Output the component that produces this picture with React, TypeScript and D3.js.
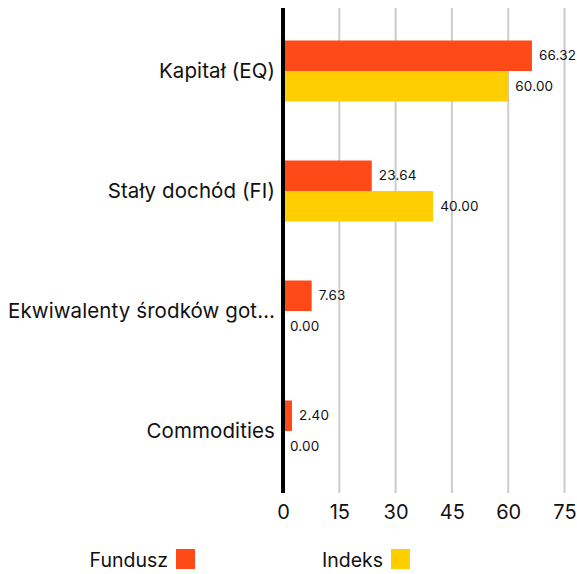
import { useEffect, useRef } from "react";
import { select, scaleLinear, scaleBand, axisBottom } from "d3";

const categories = [
  "Kapitał (EQ)",
  "Stały dochód (FI)",
  "Ekwiwalenty środków got…",
  "Commodities",
];
const seriesNames = ["Fundusz", "Indeks"];
const fundValues = [66.32, 23.64, 7.63, 2.4];
const indexValues = [60.0, 40.0, 0.0, 0.0];
const xTicks = [0, 15, 30, 45, 60, 75];

const colors = ["#FF4A17", "#FFCE00"];
const FONT = "Inter, 'Open Sans', sans-serif";

export default function App() {
  const svgRef = useRef<SVGSVGElement | null>(null);
  const width = 577;
  const height = 574;

  useEffect(() => {
    if (!svgRef.current) return;
    const svg = select(svgRef.current);
    svg.selectAll("*").remove();

    const x = scaleLinear().domain([0, 75]).range([283, 564.5]);
    const y = scaleBand<string>().domain(categories).range([11, 491]).paddingInner(0).paddingOuter(0);
    const inner = scaleBand<string>().domain(seriesNames).range([0, 61]);

    // grid
    svg
      .append("g")
      .selectAll("line")
      .data(xTicks.filter((t) => t > 0))
      .enter()
      .append("line")
      .attr("x1", (d) => x(d))
      .attr("x2", (d) => x(d))
      .attr("y1", 8)
      .attr("y2", 493)
      .attr("stroke", "#cccccc")
      .attr("stroke-width", 2);

    // bars
    const groups = svg
      .append("g")
      .selectAll("g")
      .data(categories)
      .enter()
      .append("g")
      .attr("transform", (d) => `translate(0,${(y(d) ?? 0) + y.bandwidth() / 2 - 30.5})`);

    groups.each(function (cat, i) {
      const g = select(this);
      const vals = [fundValues[i], indexValues[i]];
      vals.forEach((v, s) => {
        const y0 = inner(seriesNames[s]) ?? 0;
        g.append("rect")
          .attr("x", x(0))
          .attr("y", y0)
          .attr("width", x(v) - x(0))
          .attr("height", inner.bandwidth())
          .attr("fill", colors[s]);
        g.append("text")
          .attr("x", x(v) + 7)
          .attr("y", y0 + inner.bandwidth() / 2)
          .attr("dy", "0.35em")
          .attr("font-family", FONT)
          .attr("font-size", 13.5)
          .attr("letter-spacing", 0.2)
          .attr("fill", "#111")
          .text(v.toFixed(2));
      });
    });

    // category labels
    svg
      .append("g")
      .selectAll("text")
      .data(categories)
      .enter()
      .append("text")
      .attr("x", 275)
      .attr("y", (d) => (y(d) ?? 0) + y.bandwidth() / 2)
      .attr("dy", "0.35em")
      .attr("text-anchor", "end")
      .attr("font-family", FONT)
      .attr("font-size", 20.5)
      .attr("letter-spacing", 0.1)
      .attr("fill", "#111")
      .text((d) => d);

    // x axis
    const xAxis = axisBottom(x).tickValues(xTicks).tickSize(0).tickPadding(12);
    const gx = svg.append("g").attr("transform", "translate(0,493)").call(xAxis);
    gx.select(".domain").remove();
    gx.selectAll("text")
      .attr("font-family", FONT)
      .attr("font-size", 20)
      .attr("fill", "#111");

    // zero line
    svg
      .append("line")
      .attr("x1", x(0))
      .attr("x2", x(0))
      .attr("y1", 8)
      .attr("y2", 493)
      .attr("stroke", "#000")
      .attr("stroke-width", 4);

    // legend
    const legendX = [168, 383];
    const legend = svg
      .append("g")
      .selectAll("g")
      .data(seriesNames)
      .enter()
      .append("g");
    legend
      .append("text")
      .attr("x", (_, i) => legendX[i])
      .attr("y", 567)
      .attr("text-anchor", "end")
      .attr("font-family", FONT)
      .attr("font-size", 19.5)
      .attr("fill", "#111")
      .text((d) => d);
    legend
      .append("rect")
      .attr("x", (_, i) => legendX[i] + 8)
      .attr("y", 549)
      .attr("width", 19)
      .attr("height", 20)
      .attr("fill", (_, i) => colors[i]);
  }, []);

  return (
    <svg
      ref={svgRef}
      width={width}
      height={height}
      style={{ position: "absolute", left: 0, top: 0, background: "#fff" }}
    />
  );
}
